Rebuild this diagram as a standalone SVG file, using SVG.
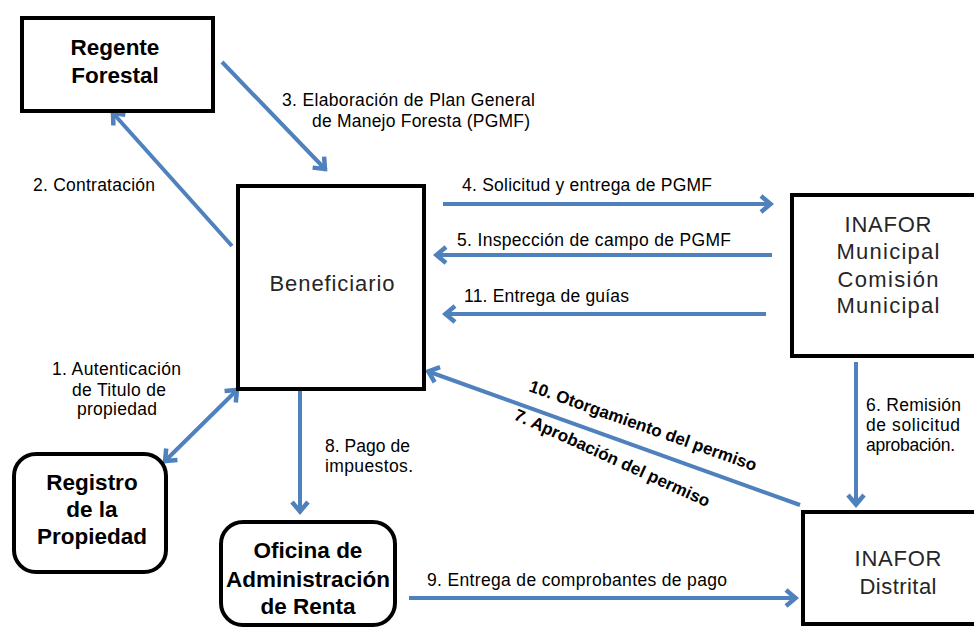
<svg xmlns="http://www.w3.org/2000/svg" width="974" height="628" viewBox="0 0 974 628">
<style>
.box{fill:#fff;stroke:#000;stroke-width:4}
.bt{font-family:"Liberation Sans",Arial,sans-serif;font-weight:bold;font-size:22.5px;fill:#000;text-anchor:middle}
.nt{font-family:"Liberation Sans",Arial,sans-serif;font-size:22px;fill:#262626;text-anchor:middle}
.lb{font-family:"Liberation Sans",Arial,sans-serif;font-size:17.5px;fill:#000}
.lbb{font-family:"Liberation Sans",Arial,sans-serif;font-size:17px;font-weight:bold;fill:#000}
.c{stroke:#4F81BD;stroke-width:4;fill:none}
</style>
<defs>
<marker id="ah" markerUnits="userSpaceOnUse" markerWidth="24" markerHeight="24" viewBox="-14 -12 24 24" refX="0" refY="0" orient="auto-start-reverse">
<path d="M-11,-8 L-1.5,0 L-11,8" fill="none" stroke="#4F81BD" stroke-width="4.5"/>
</marker>
</defs>
<rect width="974" height="628" fill="#fff"/>
<g id="connectors">
<line class="c" x1="164" y1="462" x2="238" y2="389" marker-start="url(#ah)" marker-end="url(#ah)"/>
<line class="c" x1="232" y1="246" x2="112" y2="112" marker-end="url(#ah)"/>
<line class="c" x1="222" y1="62" x2="326" y2="170" marker-end="url(#ah)"/>
<line class="c" x1="443" y1="204" x2="772" y2="204" marker-end="url(#ah)"/>
<line class="c" x1="772" y1="255" x2="435" y2="255" marker-end="url(#ah)"/>
<line class="c" x1="766" y1="314" x2="444" y2="314" marker-end="url(#ah)"/>
<line class="c" x1="856" y1="362" x2="856" y2="506" marker-end="url(#ah)"/>
<line class="c" x1="800" y1="505" x2="427" y2="371" marker-end="url(#ah)"/>
<line class="c" x1="300" y1="391" x2="300" y2="513" marker-end="url(#ah)"/>
<line class="c" x1="409" y1="598" x2="797" y2="598" marker-end="url(#ah)"/>
<text class="lb" x="282" y="106" textLength="253">3. Elaboración de Plan General</text>
<text class="lb" x="312" y="127" textLength="218">de Manejo Foresta (PGMF)</text>
<text class="lb" x="33" y="191" textLength="122">2. Contratación</text>
<text class="lb" x="462" y="191" textLength="250">4. Solicitud y entrega de PGMF</text>
<text class="lb" x="457" y="246" textLength="274">5. Inspección de campo de PGMF</text>
<text class="lb" x="464" y="302" textLength="165">11. Entrega de guías</text>
<text class="lb" x="52" y="375" textLength="129">1. Autenticación</text>
<text class="lb" x="72" y="396" textLength="94">de Titulo de</text>
<text class="lb" x="77" y="415" textLength="80">propiedad</text>
<text class="lb" x="325" y="452" textLength="85">8. Pago de</text>
<text class="lb" x="325" y="472" textLength="88">impuestos.</text>
<text class="lb" x="427" y="586" textLength="300">9. Entrega de comprobantes de pago</text>
<text class="lb" x="866" y="411" textLength="95">6. Remisión</text>
<text class="lb" x="866" y="431" textLength="94">de solicitud</text>
<text class="lb" x="866" y="451" textLength="89">aprobación.</text>
<text class="lbb" transform="translate(528,391) rotate(19.5)">10. Otorgamiento del permiso</text>
<text class="lbb" transform="translate(513,419) rotate(24.5)">7. Aprobación del permiso</text>
</g>
<g id="regente">
<rect class="box" x="22" y="18" width="191" height="93"/>
<text class="bt" x="115" y="55">Regente</text>
<text class="bt" x="115" y="83">Forestal</text>
</g>
<g id="beneficiario">
<rect class="box" x="238" y="186" width="186" height="203" stroke-width="3.5"/>
<text class="nt" x="332" y="291" textLength="125">Beneficiario</text>
</g>
<g id="inafor-municipal">
<rect class="box" x="792" y="195" width="192" height="161"/>
<text class="nt" x="888" y="232" textLength="87">INAFOR</text>
<text class="nt" x="888" y="259" textLength="103">Municipal</text>
<text class="nt" x="888" y="287" textLength="101">Comisión</text>
<text class="nt" x="888" y="313" textLength="103">Municipal</text>
</g>
<g id="registro">
<rect class="box" x="14" y="454" width="152" height="118" rx="22"/>
<text class="bt" x="92" y="490">Registro</text>
<text class="bt" x="92" y="517">de la</text>
<text class="bt" x="92" y="544">Propiedad</text>
</g>
<g id="oficina">
<rect class="box" x="221" y="522" width="174" height="103" rx="22"/>
<text class="bt" x="308" y="558">Oficina de</text>
<text class="bt" x="308" y="587">Administración</text>
<text class="bt" x="308" y="614">de Renta</text>
</g>
<g id="inafor-distrital">
<rect class="box" x="803" y="512" width="190" height="112"/>
<text class="nt" x="898" y="566" textLength="87">INAFOR</text>
<text class="nt" x="898" y="594" textLength="77">Distrital</text>
</g>
</svg>
